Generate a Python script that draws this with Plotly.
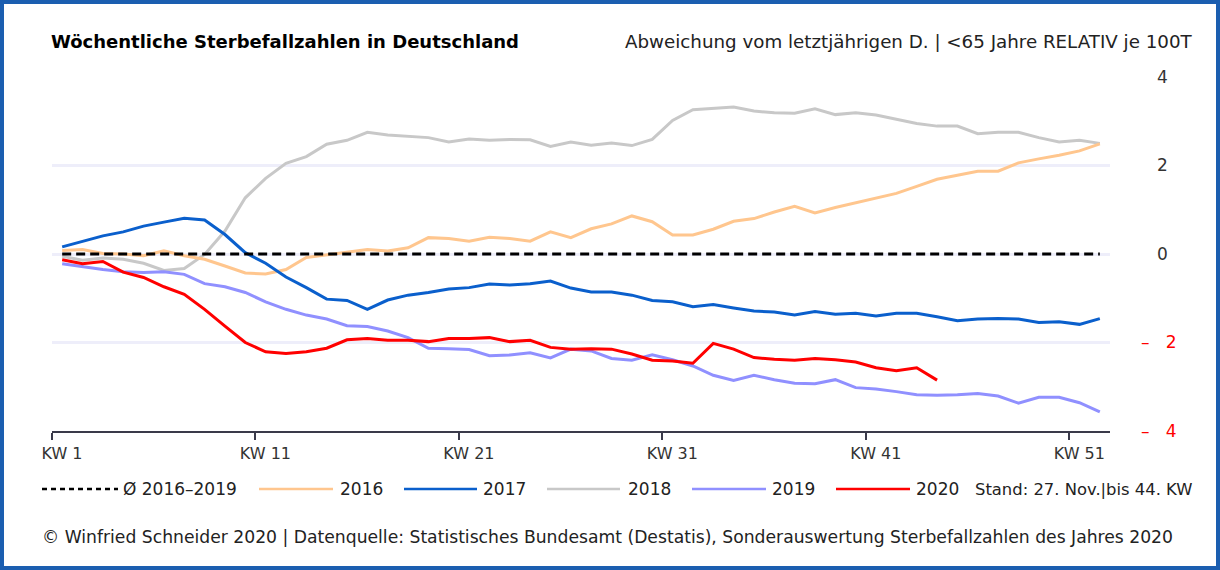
import plotly.graph_objects as go

weeks = list(range(1, 53))

avg_2016_2019 = [0.0] * 52

y2016 = [0.08, 0.10, 0.01, 0.00, -0.04, 0.07, -0.04, -0.12, -0.27, -0.43,
         -0.45, -0.35, -0.08, -0.02, 0.04, 0.10, 0.07, 0.14, 0.37, 0.35,
         0.29, 0.38, 0.35, 0.29, 0.50, 0.37, 0.57, 0.68, 0.86, 0.73,
         0.43, 0.43, 0.56, 0.74, 0.80, 0.95, 1.08, 0.93, 1.05, 1.16,
         1.27, 1.37, 1.53, 1.69, 1.78, 1.87, 1.87, 2.06, 2.15, 2.23,
         2.33, 2.49]

y2017 = [0.16, 0.29, 0.41, 0.50, 0.63, 0.72, 0.81, 0.77, 0.44, 0.03,
         -0.21, -0.52, -0.76, -1.02, -1.05, -1.25, -1.04, -0.93, -0.87, -0.79,
         -0.76, -0.68, -0.70, -0.67, -0.61, -0.77, -0.86, -0.86, -0.93, -1.05,
         -1.08, -1.19, -1.14, -1.22, -1.29, -1.31, -1.38, -1.30, -1.36, -1.34,
         -1.40, -1.34, -1.34, -1.42, -1.51, -1.47, -1.46, -1.47, -1.55, -1.53,
         -1.59, -1.46]

y2018 = [-0.05, -0.14, -0.09, -0.12, -0.21, -0.37, -0.33, -0.01, 0.52, 1.27,
         1.71, 2.05, 2.20, 2.48, 2.57, 2.75, 2.69, 2.66, 2.63, 2.53,
         2.60, 2.57, 2.59, 2.58, 2.43, 2.53, 2.46, 2.51, 2.45, 2.59,
         3.02, 3.26, 3.29, 3.32, 3.23, 3.19, 3.18, 3.28, 3.15, 3.19,
         3.14, 3.05, 2.95, 2.89, 2.89, 2.72, 2.75, 2.75, 2.63, 2.53,
         2.57, 2.50]

y2019 = [-0.22, -0.29, -0.35, -0.40, -0.42, -0.40, -0.46, -0.67, -0.74, -0.87,
         -1.08, -1.25, -1.38, -1.47, -1.62, -1.64, -1.74, -1.89, -2.13, -2.14,
         -2.16, -2.30, -2.28, -2.23, -2.35, -2.15, -2.19, -2.36, -2.40, -2.28,
         -2.39, -2.53, -2.74, -2.86, -2.74, -2.84, -2.92, -2.93, -2.84, -3.02,
         -3.05, -3.11, -3.18, -3.19, -3.18, -3.15, -3.21, -3.37, -3.24, -3.24,
         -3.36, -3.57]

y2020 = [-0.13, -0.22, -0.17, -0.41, -0.53, -0.74, -0.91, -1.25, -1.63, -2.00,
         -2.21, -2.25, -2.21, -2.13, -1.94, -1.91, -1.95, -1.95, -1.98, -1.91,
         -1.91, -1.89, -1.98, -1.95, -2.11, -2.15, -2.14, -2.15, -2.26, -2.40,
         -2.42, -2.47, -2.02, -2.15, -2.34, -2.38, -2.40, -2.36, -2.39, -2.44,
         -2.57, -2.64, -2.57, -2.85]

x_tickvals = [1, 11, 21, 31, 41, 51]
x_ticktext = ["KW 1", "KW 11", "KW 21", "KW 31", "KW 41", "KW 51"]
y_pos_tickvals = [-2, 0, 2, 4]
y_pos_ticktext = ["", "0", "2", "4"]
y_neg_tickvals = [-4, -2]
y_neg_ticktext = ["–\u00a0\u00a0\u00a04", "–\u00a0\u00a0\u00a02"]

series = [
    ("2018", y2018, "#c8c8c8"),
    ("2016", y2016, "#ffc68e"),
    ("2017", y2017, "#0a5fcc"),
    ("2019", y2019, "#9090ff"),
    ("2020", y2020, "#ff0000"),
]
legend_items = [
    ("Ø 2016–2019", "#000000", "dot"),
    ("2016", "#ffc68e", "solid"),
    ("2017", "#0a5fcc", "solid"),
    ("2018", "#c8c8c8", "solid"),
    ("2019", "#9090ff", "solid"),
    ("2020", "#ff0000", "solid"),
]

FONT = "DejaVu Sans"
W, H = 1220, 570
L, R, T, B = 52, 110, 77, 139
PW, PH = W - L - R, H - T - B


def px(xp):
    return (xp - L) / PW


def py(yp):
    return (H - B - yp) / PH


fig = go.Figure()
xs = [w + 0.5 for w in weeks]
for name, vals, col in series:
    fig.add_trace(go.Scatter(x=xs[:len(vals)], y=vals, mode="lines", name=name,
                             line=dict(color=col, width=3), showlegend=False,
                             hoverinfo="skip"))
fig.add_trace(go.Scatter(x=xs, y=avg_2016_2019, mode="lines", name="Ø 2016–2019",
                         line=dict(color="#000000", width=3, dash="9px,5px"),
                         showlegend=False, hoverinfo="skip"))
# invisible helper trace to carry the red negative tick labels axis
fig.add_trace(go.Scatter(x=[xs[0]], y=[0], yaxis="y2", mode="lines",
                         showlegend=False, hoverinfo="skip",
                         line=dict(color="rgba(0,0,0,0)")))

shapes = []
annotations = []

# outer frame
shapes.append(dict(type="rect", xref="paper", yref="paper",
                   x0=px(2), x1=px(W - 2), y0=py(H - 2), y1=py(2),
                   line=dict(color="#1b5eb0", width=4), fillcolor="rgba(0,0,0,0)",
                   layer="above"))

# legend
leg_y = 489
leg_pos = [(42, 118, 121), (259, 333, 338), (404, 477, 481),
           (547, 620, 626), (692, 766, 770), (836, 910, 914)]
for (label, col, dash), (x0, x1, xt) in zip(legend_items, leg_pos):
    shapes.append(dict(type="line", xref="paper", yref="paper",
                       x0=px(x0), x1=px(x1), y0=py(leg_y), y1=py(leg_y),
                       line=dict(color=col, width=2.5,
                                 dash="5px,4px" if dash == "dot" else "solid")))
    annotations.append(dict(xref="paper", yref="paper", x=px(xt), y=py(leg_y),
                            text=label, showarrow=False, xanchor="left",
                            yanchor="middle",
                            font=dict(family=FONT, size=17, color="#222222")))
annotations.append(dict(xref="paper", yref="paper", x=px(973), y=py(leg_y),
                        text="Stand: 27. Nov.|bis 44. KW", showarrow=False,
                        xanchor="left", yanchor="middle",
                        font=dict(family=FONT, size=16.4, color="#222222")))

# titles
annotations.append(dict(xref="paper", yref="paper", x=px(49), y=py(41),
                        text="<b>Wöchentliche Sterbefallzahlen in Deutschland</b>",
                        showarrow=False, xanchor="left", yanchor="middle",
                        font=dict(family=FONT, size=18, color="#000000")))
annotations.append(dict(xref="paper", yref="paper", x=px(1195), y=py(41),
                        text="Abweichung vom letztjährigen D. | <65 Jahre RELATIV je 100T",
                        showarrow=False, xanchor="right", yanchor="middle",
                        font=dict(family=FONT, size=18.25, color="#222222")))
annotations.append(dict(xref="paper", yref="paper", x=px(40), y=py(537),
                        text="© Winfried Schneider 2020 | Datenquelle: Statistisches Bundesamt (Destatis), Sonderauswertung Sterbefallzahlen des Jahres 2020",
                        showarrow=False, xanchor="left", yanchor="middle",
                        font=dict(family=FONT, size=17.2, color="#222222")))

fig.update_layout(
    width=W, height=H,
    margin=dict(l=L, r=R, t=T, b=B),
    paper_bgcolor="white", plot_bgcolor="white",
    font=dict(family=FONT, color="#333333"),
    showlegend=False,
    shapes=shapes, annotations=annotations,
    xaxis=dict(range=[1, 53], tickvals=x_tickvals, ticktext=x_ticktext,
               showgrid=False, zeroline=False, showline=True,
               linecolor="#3a3a4a", linewidth=1.5, ticks="outside", ticklen=7,
               tickwidth=1.5, tickcolor="#3a3a4a", ticklabelshift=10,
               tickfont=dict(family=FONT, size=16, color="#333333"),
               fixedrange=True),
    yaxis=dict(range=[-4, 4], tickvals=y_pos_tickvals, ticktext=y_pos_ticktext,
               side="right", showgrid=True, gridcolor="#eeeefa", gridwidth=3,
               zeroline=False, showline=False, ticks="",
               ticklabelstandoff=46,
               tickfont=dict(family=FONT, size=17, color="#333333"),
               fixedrange=True),
    yaxis2=dict(range=[-4, 4], tickvals=y_neg_tickvals, ticktext=y_neg_ticktext,
                overlaying="y", side="right", showgrid=False, zeroline=False,
                showline=False, ticks="", ticklabelstandoff=30,
                tickfont=dict(family=FONT, size=17, color="#ff0000"),
                fixedrange=True),
)

fig.write_html("out.html", config={"displayModeBar": False},
               post_script="document.body.style.margin='0';document.body.style.overflow='hidden';")
